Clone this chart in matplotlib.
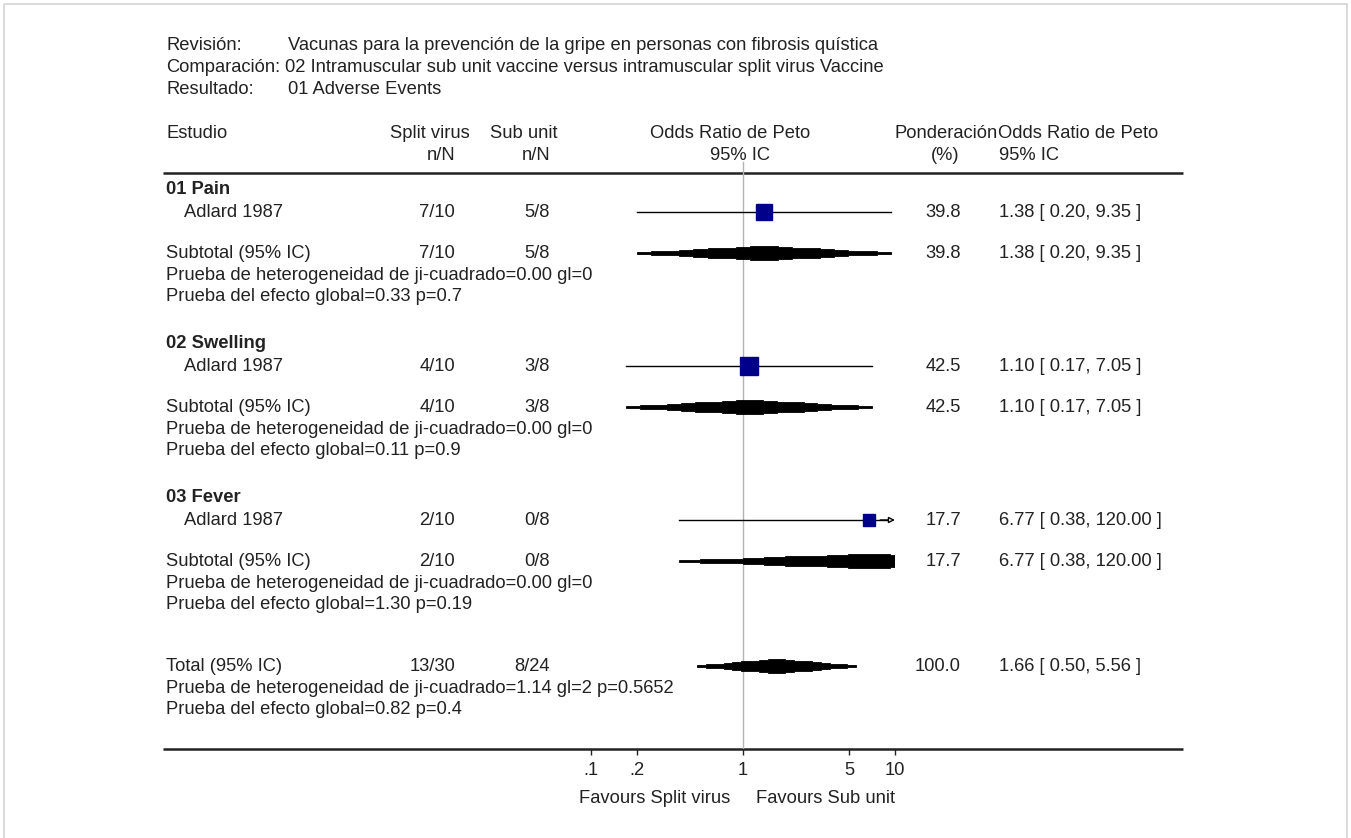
import matplotlib
matplotlib.use("Agg")
import matplotlib.pyplot as plt
from matplotlib.patches import Polygon, Rectangle

plt.rcParams["font.family"] = ["Liberation Sans", "DejaVu Sans"]

# ---------------- DATA ----------------
review = "Vacunas para la prevención de la gripe en personas con fibrosis quística"
comparison = "02 Intramuscular sub unit vaccine versus intramuscular split virus Vaccine"
outcome = "01 Adverse Events"

groups = ["01 Pain", "02 Swelling", "03 Fever"]
studies = ["Adlard 1987", "Adlard 1987", "Adlard 1987"]
split_n = [7, 4, 2]
split_N = [10, 10, 10]
sub_n = [5, 3, 0]
sub_N = [8, 8, 8]
or_est = [1.38, 1.10, 6.77]
ci_lo = [0.20, 0.17, 0.38]
ci_hi = [9.35, 7.05, 120.00]
weights = [39.8, 42.5, 17.7]
het_chi = [0.00, 0.00, 0.00]
het_df = [0, 0, 0]
eff_z = [0.33, 0.11, 1.30]
eff_p = ["0.7", "0.9", "0.19"]

total_split = (13, 30)
total_sub = (8, 24)
total_or = (1.66, 0.50, 5.56)
total_weight = 100.0
total_het = "Prueba de heterogeneidad de ji-cuadrado=1.14 gl=2 p=0.5652"
total_eff = "Prueba del efecto global=0.82 p=0.4"

tick_vals = [0.1, 0.2, 1, 5, 10]
tick_labels = [".1", ".2", "1", "5", "10"]

# ---------------- LAYOUT ----------------
W, H = 1351, 838
FS = 13.2
TXT = "#222222"
group_y = [189, 343, 497]
offs = [0, 23, 64, 86, 107]
total_y = 666
axis_y = 749
x_split = 455
x_sub = 550
x_w = 961
x_ci = 999

fig = plt.figure(figsize=(W / 100, H / 100), dpi=100)
fig.patch.set_facecolor("white")

ax0 = fig.add_axes([0, 0, 1, 1])
ax0.set_xlim(0, W)
ax0.set_ylim(H, 0)
ax0.axis("off")
ax0.add_patch(Rectangle((4, 4), W - 8, H, fill=False, edgecolor="#d4d4d4", lw=1.2))


def txt(x, y, s, ha="left", bold=False):
    ax0.text(x, y, s, ha=ha, va="center", fontsize=FS, color=TXT,
             fontweight="bold" if bold else "normal")


# header block
txt(166, 45, "Revisión:")
txt(288, 45, review)
txt(166, 67, "Comparación:")
txt(285, 67, comparison)
txt(166, 89, "Resultado:")
txt(288, 89, outcome)

txt(166, 134, "Estudio")
txt(470, 134, "Split virus", ha="right")
txt(x_split, 155, "n/N", ha="right")
txt(557, 134, "Sub unit", ha="right")
txt(x_sub, 155, "n/N", ha="right")
txt(730, 134, "Odds Ratio de Peto", ha="center")
txt(740, 155, "95% IC", ha="center")
txt(998, 134, "Ponderación", ha="right")
txt(959, 155, "(%)", ha="right")
txt(998, 134, "Odds Ratio de Peto")
txt(999, 155, "95% IC")

ax0.plot([163, 1183], [173, 173], color="#222222", lw=1.8, solid_capstyle="butt")
ax0.plot([163, 1183], [axis_y, axis_y], color="#222222", lw=1.8, solid_capstyle="butt")


def ci_text(est, lo, hi):
    return f"{est:.2f} [ {lo:.2f}, {hi:.2f} ]"


# ---------------- FOREST AXES ----------------
ax = fig.add_axes([591 / W, (H - axis_y) / H, 304 / W, axis_y / H])
ax.set_xscale("log")
ax.set_xlim(0.1, 10)
ax.set_ylim(axis_y, 0)
ax.patch.set_alpha(0)
for sp in ax.spines.values():
    sp.set_visible(False)
ax.set_yticks([])
ax.set_xticks(tick_vals)
ax.set_xticklabels(tick_labels)
ax.minorticks_off()
ax.tick_params(axis="x", direction="out", length=4, width=1, color="#222222",
               labelsize=FS, labelcolor=TXT, pad=5)

ax.plot([1, 1], [162, axis_y], color="#b4b4b4", lw=1, zorder=1)


def diamond(est, lo, hi, y, h=7, steps=9):
    # stepped diamond like the old RevMan drawing
    top, bot = [], []
    for k in range(steps):
        x0 = lo * (est / lo) ** (k / steps)
        x1 = lo * (est / lo) ** ((k + 1) / steps)
        hk = h * (k + 1) / steps
        top += [(x0, y - hk), (x1, y - hk)]
        bot += [(x0, y + hk), (x1, y + hk)]
    for k in range(steps):
        x0 = est * (hi / est) ** (k / steps)
        x1 = est * (hi / est) ** ((k + 1) / steps)
        hk = h * (steps - k) / steps
        top += [(x0, y - hk), (x1, y - hk)]
        bot += [(x0, y + hk), (x1, y + hk)]
    ax.add_patch(Polygon(top + bot[::-1], closed=True, facecolor="black",
                         edgecolor="black", lw=0.6, zorder=3))


for i, g in enumerate(groups):
    gy = group_y[i]
    ys, yt, yh, ye = gy + offs[1], gy + offs[2], gy + offs[3], gy + offs[4]
    txt(166, gy, g, bold=True)
    txt(184, ys, studies[i])
    txt(x_split, ys, f"{split_n[i]}/{split_N[i]}", ha="right")
    txt(x_sub, ys, f"{sub_n[i]}/{sub_N[i]}", ha="right")
    txt(x_w, ys, f"{weights[i]:.1f}", ha="right")
    txt(x_ci, ys, ci_text(or_est[i], ci_lo[i], ci_hi[i]))

    txt(166, yt, "Subtotal (95% IC)")
    txt(x_split, yt, f"{split_n[i]}/{split_N[i]}", ha="right")
    txt(x_sub, yt, f"{sub_n[i]}/{sub_N[i]}", ha="right")
    txt(x_w, yt, f"{weights[i]:.1f}", ha="right")
    txt(x_ci, yt, ci_text(or_est[i], ci_lo[i], ci_hi[i]))
    txt(166, yh, f"Prueba de heterogeneidad de ji-cuadrado={het_chi[i]:.2f} gl={het_df[i]}")
    txt(166, ye, f"Prueba del efecto global={eff_z[i]:.2f} p={eff_p[i]}")

    # study CI line + square
    if ci_hi[i] > 10:
        ax.plot([ci_lo[i], 9.0], [ys, ys], color="black", lw=1, zorder=2)
        ax.annotate("", xy=(10, ys), xytext=(8.0, ys),
                    arrowprops=dict(arrowstyle="-|>", color="black", lw=1,
                                    mutation_scale=9, fc="white",
                                    shrinkA=0, shrinkB=0), zorder=2)
    else:
        ax.plot([ci_lo[i], ci_hi[i]], [ys, ys], color="black", lw=1, zorder=2)
    side = 2.69 * weights[i] ** 0.5
    ax.plot([or_est[i]], [ys], marker="s", markersize=side * 0.72,
            color="#00008b", markeredgecolor="#00008b", zorder=4, linestyle="none")

    diamond(or_est[i], ci_lo[i], ci_hi[i], yt)

# total
txt(166, total_y, "Total (95% IC)")
txt(x_split, total_y, f"{total_split[0]}/{total_split[1]}", ha="right")
txt(x_sub, total_y, f"{total_sub[0]}/{total_sub[1]}", ha="right")
txt(x_w, total_y, f"{total_weight:.1f}", ha="right")
txt(x_ci, total_y, ci_text(*total_or))
txt(166, total_y + 22, total_het)
txt(166, total_y + 43, total_eff)
diamond(total_or[0], total_or[1], total_or[2], total_y)

txt(730, 798, "Favours Split virus", ha="right")
txt(756, 798, "Favours Sub unit")

fig.savefig("out.png", dpi=100, facecolor="white")
